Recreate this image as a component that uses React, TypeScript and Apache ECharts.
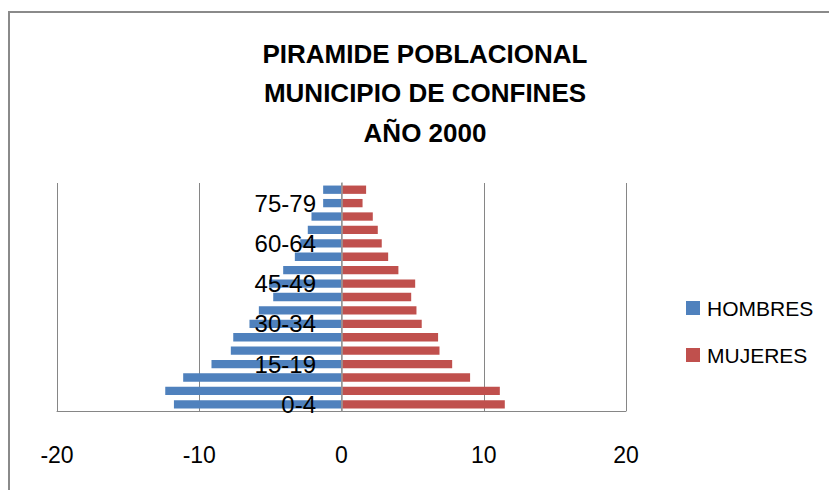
import React, { useEffect, useRef } from "react";
import * as echarts from "echarts";

const categories = ["0-4", "5-9", "10-14", "15-19", "20-24", "25-29", "30-34", "35-39", "40-44", "45-49", "50-54", "55-59", "60-64", "65-69", "70-74", "75-79", "80+"];
const hombres = [11.78, 12.39, 11.13, 9.14, 7.78, 7.61, 6.47, 5.81, 4.8, 5.1, 4.1, 3.28, 2.9, 2.37, 2.11, 1.29, 1.29];
const mujeres = [11.48, 11.13, 9.04, 7.78, 6.89, 6.79, 5.64, 5.27, 4.9, 5.18, 4.0, 3.28, 2.83, 2.55, 2.2, 1.48, 1.73];
const titleLines = ["PIRAMIDE POBLACIONAL", "MUNICIPIO DE CONFINES", "AÑO 2000"];

const FONT = "'Liberation Sans', Arial, sans-serif";

export default function App() {
  const ref = useRef<HTMLDivElement>(null);
  useEffect(() => {
    document.body.style.margin = "0";
    const chart = echarts.init(ref.current!, null, { renderer: "svg" });
    chart.setOption({
      animation: false,
      backgroundColor: "#ffffff",
      textStyle: { fontFamily: FONT },
      graphic: [
        {
          type: "rect",
          shape: { x: 9, y: 12, width: 1000, height: 1000 },
          style: { fill: "none", stroke: "#8a8a8a", lineWidth: 2 },
          silent: true,
        },
        {
          type: "text",
          x: 425,
          y: 93,
          style: {
            text: titleLines.join("\n"),
            align: "center",
            verticalAlign: "middle",
            lineHeight: 39.5,
            fontFamily: FONT,
            fontWeight: "bold",
            fontSize: 26,
            fill: "#000000",
          },
        },
      ],
      legend: {
        orient: "vertical",
        left: 681,
        top: 292,
        itemWidth: 14,
        itemHeight: 14,
        itemGap: 25,
        icon: "rect",
        textStyle: { fontSize: 21, lineHeight: 22, color: "#000", fontFamily: FONT, padding: [0, 0, 0, 2] },
        data: ["HOMBRES", "MUJERES"],
      },
      grid: { left: 57, right: 203, top: 183, bottom: 79, containLabel: false, outerBoundsMode: "none" },
      xAxis: {
        type: "value",
        min: -20,
        max: 20,
        interval: 10,
        axisLine: { show: true, onZero: false, lineStyle: { color: "#868686", width: 1 } },
        axisTick: { show: false },
        splitLine: { show: true, lineStyle: { color: "#868686", width: 1 } },
        axisLabel: { fontSize: 23, color: "#000", margin: 32, fontFamily: FONT },
      },
      yAxis: {
        type: "category",
        data: categories,
        z: 10,
        axisLine: { show: true, onZero: true, lineStyle: { color: "#9a9a9a", width: 1.5 } },
        axisTick: { show: false },
        axisLabel: { interval: 2, fontSize: 24, color: "#000", margin: -259, fontFamily: FONT },
      },
      series: [
        {
          name: "HOMBRES",
          type: "bar",
          stack: "total",
          data: hombres.map((v) => -v),
          barCategoryGap: "38%",
          itemStyle: { color: "#4F81BD" },
        },
        {
          name: "MUJERES",
          type: "bar",
          stack: "total",
          data: mujeres,
          barCategoryGap: "38%",
          itemStyle: { color: "#C0504D" },
        },
      ],
    });
    return () => chart.dispose();
  }, []);
  return <div ref={ref} style={{ width: 829, height: 490 }} />;
}
